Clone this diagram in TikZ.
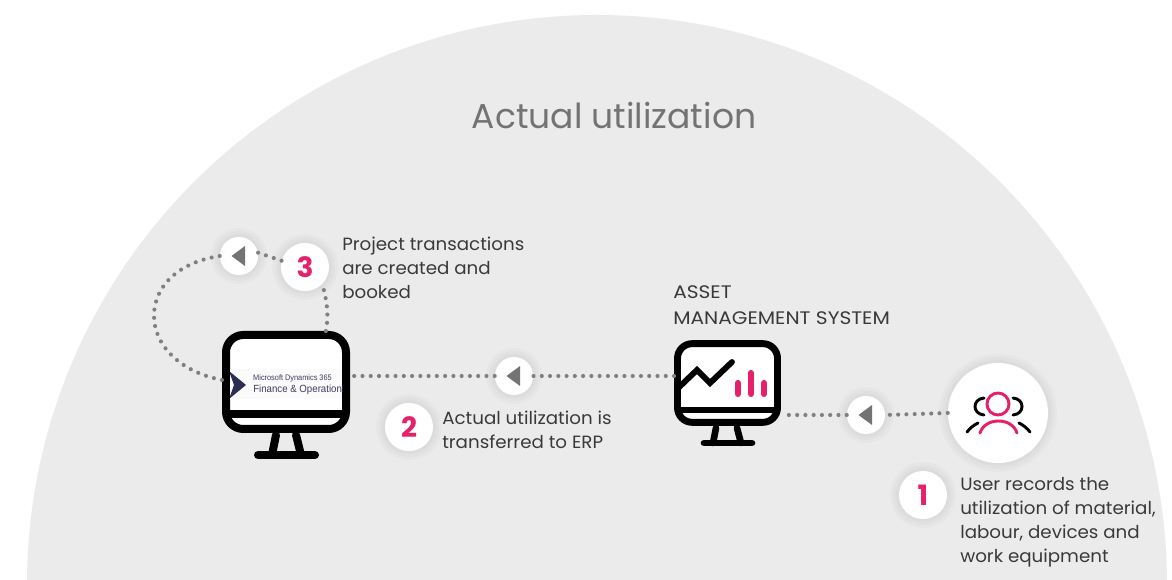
\documentclass[tikz,border=0pt]{standalone}
\usepackage{fontspec}
\setmainfont{Poppins}
\newfontfamily\widefont[FakeStretch=1.11]{Poppins}
\newfontfamily\bodyfont[FakeStretch=1.03]{Poppins}
\newfontfamily\logofont{Liberation Sans}
\usetikzlibrary{calc}
\definecolor{bggray}{HTML}{EBEBEB}
\definecolor{pinkish}{HTML}{E6206B}
\definecolor{dotgray}{HTML}{808080}
\definecolor{txt}{HTML}{3A3A3A}
\definecolor{navy}{HTML}{2B2D52}
\tikzset{
  softcircle/.style={circle,fill=white,draw=none,inner sep=0pt,
    preaction={draw=black,draw opacity=.02,line width=13.5pt},
    preaction={draw=black,draw opacity=.02,line width=9pt},
    preaction={draw=black,draw opacity=.02,line width=4.5pt}},
  arrowdisc/.style={softcircle,minimum size=28.5pt},
  numdisc/.style={softcircle,minimum size=36pt,text=pinkish,font=\fontsize{21}{21}\selectfont\bfseries},
  userdisc/.style={softcircle,minimum size=75pt},
  dots/.style={draw=dotgray,line width=3.1pt,line cap=round,dash pattern=on 0pt off 6.2pt},
  tri/.style={fill=dotgray!90!black},
  body/.style={anchor=north west,align=left,text=txt,inner sep=0pt,font=\bodyfont\fontsize{13.3}{18}\selectfont},
  screenbox/.style={draw=black,fill=white,line width=6pt,rounded corners=13pt,inner sep=0pt},
  blk/.style={draw=black,line width=6pt,line cap=round},
  blkthin/.style={draw=black,line width=2.2pt,line cap=round},
  pnkthin/.style={draw=pinkish,line width=2.2pt,line cap=round},
  bar/.style={draw=pinkish,line width=4.6pt,line cap=round},
}
\newcommand{\tribox}[1]{\fill[tri] ($(#1.center)+(-7.5,0)$) -- ($(#1.center)+(6,-10)$) -- ($(#1.center)+(6,10)$) -- cycle;}
\begin{document}
\begin{tikzpicture}[x=0.75pt,y=-0.75pt]
\useasboundingbox (0,0) rectangle (1172,580);
\begin{scope}
  \clip (0,0) rectangle (1172,580);
  \fill[bggray] (597,585) circle [radius=570];
\end{scope}

\node[text=dotgray!90!black,font=\fontsize{25.9}{30}\selectfont] (title) at (614,116) {Actual utilization};

% ERP monitor
\draw[blk] (276,435) -- (272,455);
\draw[blk] (296,435) -- (301,455);
\draw[blk] (258,455) -- (315,455);
\node[screenbox,minimum width=90pt,minimum height=70.5pt] (erp) at (286,382) {};
\fill[white!97!gray] (230,369) rectangle (342,399);
\begin{scope}
  \clip (230,369) rectangle (342,399);
  \fill[navy] (229,371) -- (246,385) -- (229,399) -- (234,385) -- cycle;
  \node[anchor=west,inner sep=0pt,text=navy!80!gray,font=\logofont\fontsize{6}{6}\selectfont,xscale=.92] (erplogoa) at (253,378) {Microsoft Dynamics 365};
  \node[anchor=west,inner sep=0pt,text=navy!80!gray,font=\logofont\fontsize{7.8}{8}\selectfont,xscale=.93] (erplogob) at (253,390) {Finance \& Operations};
\end{scope}
\draw[blk,line cap=butt] (226,414) -- (346,414);

% Asset monitor
\draw[blk,line width=5pt] (716,428) -- (713,443);
\draw[blk,line width=5pt] (737,428) -- (741,443);
\draw[blk,line width=5pt] (704,443) -- (752,443);
\node[screenbox,line width=5.2pt,rounded corners=11pt,minimum width=75pt,minimum height=59pt] (asset) at (727.5,383) {};
\begin{scope}
  \clip (678,345) rectangle (777,408);
  \draw[blk,line width=4.4pt] (674,392) -- (697,370) -- (710,383) -- (732,362);
\end{scope}
\draw[bar] (738,383) -- (738,394);
\draw[bar] (751,373) -- (751,394);
\draw[bar] (764,383) -- (764,394);
\draw[blk,line width=5.2pt,line cap=butt] (677,410) -- (778,410);

% Discs
\node[userdisc] (user) at (998,413) {};
\node[arrowdisc] (a1) at (866,415) {};
\node[arrowdisc] (a2) at (514,376) {};
\node[arrowdisc] (a3) at (239,256) {};
\tribox{a1}
\tribox{a2}
\tribox{a3}
\node[numdisc] (n1) at (923,495) {1};
\node[numdisc] (n2) at (409,427) {2};
\node[numdisc] (n3) at (305,267) {3};

% User icon
\draw[pnkthin] (998,404) circle [radius=11];
\draw[pnkthin] (980,433) .. controls (985,417) and (1012,417) .. (1017,433);
\draw[blkthin] (984,398) .. controls (972,399) and (972,414) .. (984,415);
\draw[blkthin] (1013,398) .. controls (1025,399) and (1025,414) .. (1013,415);
\draw[blkthin] (967,432) .. controls (970,428) and (974,425) .. (978,423);
\draw[blkthin] (1030,432) .. controls (1027,428) and (1023,425) .. (1019,423);

% Connectors
\draw[dots] (user.west) -- (a1.east);
\draw[dots] (a1.west) -- (asset.east |- a1);
\draw[dots] (asset.west |- a2) -- (a2.east);
\draw[dots] (a2.west) -- (erp.east |- a2);
\draw[dots] (erp.52) .. controls (329,315) and (327,300) .. (n3.-45);
\draw[dots] (n3.165) -- (a3.10);
\coordinate (loopleft) at (154,316);
\draw[dots] (a3.west) .. controls (180,262) and (154,285) .. (loopleft) .. controls (154,345) and (180,372) .. (erp.west |- 0,380);

% Texts
\node[body] (t3) at (342,237) {Project transactions\\are created and\\booked};
\node[body] (t2) at (442,411) {Actual utilization is\\transferred to ERP};
\node[body] (t1) at (960,477) {User records the\\utilization of material,\\labour, devices and\\work equipment};
\node[body,font=\widefont\fontsize{13.6}{18}\selectfont] (tasset) at (673,285) {ASSET\\[2pt]MANAGEMENT SYSTEM};
\end{tikzpicture}
\end{document}
